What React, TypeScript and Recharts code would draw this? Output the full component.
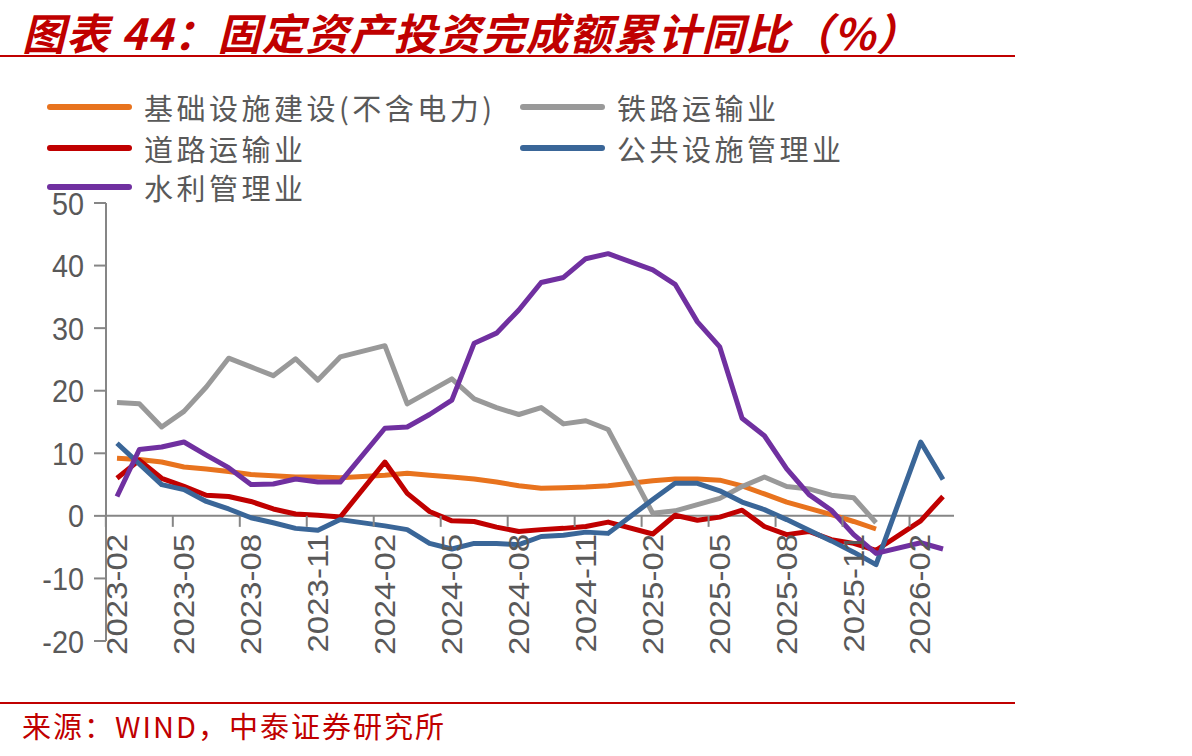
import { Line, LineChart, ReferenceLine, XAxis, YAxis } from "recharts";

// monthly cumulative YoY (%), January has no release so it stays null
const months = [
  "2023-02", "2023-03", "2023-04", "2023-05", "2023-06", "2023-07", "2023-08", "2023-09", "2023-10", "2023-11", "2023-12",
  "2024-01", "2024-02", "2024-03", "2024-04", "2024-05", "2024-06", "2024-07", "2024-08", "2024-09", "2024-10", "2024-11", "2024-12",
  "2025-01", "2025-02", "2025-03", "2025-04", "2025-05", "2025-06", "2025-07", "2025-08", "2025-09", "2025-10", "2025-11", "2025-12",
  "2026-01", "2026-02", "2026-03",
];

const infra = [
  9.2, 9.0, 8.6, 7.8, 7.5, 7.1, 6.6, 6.4, 6.2, 6.2, 6.1,
  null, 6.5, 6.8, 6.5, 6.2, 5.9, 5.4, 4.8, 4.4, 4.5, 4.6, 4.8,
  null, 5.6, 5.9, 5.9, 5.7, 4.8, 3.5, 2.2, 1.2, 0.2, -0.9, -2.1,
  null, null, null,
];

const railway = [
  18.1, 17.9, 14.2, 16.7, 20.6, 25.2, 23.8, 22.4, 25.1, 21.7, 25.4,
  null, 27.2, 17.9, 19.9, 21.9, 18.7, 17.3, 16.2, 17.3, 14.7, 15.2, 13.8,
  null, 0.4, 0.8, 1.8, 2.8, 4.7, 6.2, 4.7, 4.3, 3.3, 2.9, -1.1,
  null, null, null,
];

const road = [
  6.0, 8.9, 6.0, 4.7, 3.3, 3.1, 2.3, 1.1, 0.3, 0.1, -0.2,
  null, 8.6, 3.6, 0.7, -0.8, -0.9, -1.8, -2.5, -2.2, -2.0, -1.7, -1.0,
  null, -2.9, 0.1, -0.7, -0.2, 0.9, -1.7, -3.0, -2.5, -3.8, -4.4, -5.5,
  null, -0.8, 3.1,
];

const publicFacilities = [
  11.6, 8.3, 5.0, 4.2, 2.3, 1.1, -0.3, -1.1, -2.0, -2.3, -0.6,
  null, -1.6, -2.2, -4.4, -5.3, -4.4, -4.4, -4.6, -3.3, -3.1, -2.6, -2.8,
  null, 2.6, 5.2, 5.2, 4.0, 2.2, 1.0, -0.6, -2.3, -4.0, -5.8, -7.8,
  null, 11.8, 5.8,
];

const waterConservancy = [
  3.1, 10.6, 11.0, 11.8, 9.7, 7.7, 5.0, 5.1, 5.9, 5.4, 5.4,
  null, 14.0, 14.2, 16.2, 18.5, 27.6, 29.2, 32.9, 37.3, 38.1, 41.1, 41.9,
  null, 39.3, 37.0, 31.0, 27.0, 15.6, 12.8, 7.5, 3.4, 0.9, -3.0, -6.0,
  null, -4.3, -5.3,
];

const yTicks = [-20, -10, 0, 10, 20, 30, 40, 50];

const series = [
  { key: "infra", name: "基础设施建设(不含电力)", color: "#E8731E" },
  { key: "railway", name: "铁路运输业", color: "#999999" },
  { key: "road", name: "道路运输业", color: "#C00000" },
  { key: "publicFacilities", name: "公共设施管理业", color: "#3A6698" },
  { key: "waterConservancy", name: "水利管理业", color: "#7030A0" },
];

const data = months.map((month, i) => ({
  month,
  infra: infra[i],
  railway: railway[i],
  road: road[i],
  publicFacilities: publicFacilities[i],
  waterConservancy: waterConservancy[i],
}));

const W = 1192;
const H = 756;
const PLOT_LEFT = 106;
const PLOT_RIGHT = 954;
const PLOT_TOP = 203;
const PLOT_BOTTOM = 641;
const PAD = 11;
const ZERO_Y = PLOT_TOP + ((PLOT_BOTTOM - PLOT_TOP) * 50) / 70;
const HALF_STEP = (PLOT_RIGHT - PLOT_LEFT - 2 * PAD) / (months.length - 1) / 2;

const AXIS = "#868686";
const LABEL = "#595959";
const RED = "#C00000";
const NUM_FONT = "'Liberation Sans', Arial, sans-serif";
const CJK_FONT = "'Noto Sans CJK SC', 'Noto Sans', sans-serif";

// rotated month labels hang under the zero line, tick marks sit between categories
function MonthTick(props: any) {
  const { x, payload } = props;
  const tx = x - HALF_STEP;
  return (
    <g>
      <line x1={tx} x2={tx} y1={ZERO_Y} y2={ZERO_Y + 11} stroke={AXIS} strokeWidth={2} />
      <text
        transform={`translate(${x},${ZERO_Y + 18}) scale(0.88,1) rotate(-90)`}
        textAnchor="end"
        dominantBaseline="central"
        fontFamily={NUM_FONT}
        fontSize={33}
        fill={LABEL}
      >
        {payload.value}
      </text>
    </g>
  );
}

function ValueTick(props: any) {
  const { x, y, payload } = props;
  return (
    <text
      transform={`translate(${x},${y}) scale(0.9,1)`}
      textAnchor="end"
      dominantBaseline="central"
      fontFamily={NUM_FONT}
      fontSize={32}
      fill={LABEL}
    >
      {payload.value}
    </text>
  );
}

const legendPos = [
  { left: 47, top: 107 },
  { left: 520, top: 107 },
  { left: 47, top: 148 },
  { left: 520, top: 148 },
  { left: 47, top: 187 },
];

export default function App() {
  return (
    <div
      style={{
        position: "absolute",
        left: 0,
        top: 0,
        width: W,
        height: H,
        background: "#fff",
        overflow: "hidden",
      }}
    >
      <div
        style={{
          position: "absolute",
          left: 22,
          top: 5,
          paddingRight: 16,
          fontFamily: CJK_FONT,
          fontSize: 43,
          lineHeight: "52px",
          letterSpacing: 1,
          fontWeight: 700,
          fontStyle: "italic",
          color: RED,
          whiteSpace: "nowrap",
        }}
      >
        图表 44：固定资产投资完成额累计同比（%）
      </div>
      <div style={{ position: "absolute", left: 0, top: 55, width: 1015, height: 2, background: RED }} />

      {series.map((s, i) => (
        <div
          key={s.key}
          style={{
            position: "absolute",
            left: legendPos[i].left,
            top: legendPos[i].top - 20,
            height: 40,
            display: "flex",
            alignItems: "center",
            whiteSpace: "nowrap",
          }}
        >
          <div style={{ width: 85, height: 6, borderRadius: 3, background: s.color }} />
          <span
            style={{
              marginLeft: 12,
              fontFamily: CJK_FONT,
              fontSize: 29,
              letterSpacing: 3.5,
              color: LABEL,
            }}
          >
            {s.name}
          </span>
        </div>
      ))}

      <div style={{ position: "absolute", left: 0, top: 0 }}>
        <LineChart
          width={W}
          height={H}
          data={data}
          margin={{ top: PLOT_TOP, right: W - PLOT_RIGHT, bottom: H - PLOT_BOTTOM - 20, left: PLOT_LEFT - 60 }}
        >
          <XAxis
            dataKey="month"
            height={20}
            interval={2}
            padding={{ left: PAD, right: PAD }}
            axisLine={false}
            tickLine={false}
            tick={<MonthTick />}
          />
          <YAxis
            width={60}
            domain={[-20, 50]}
            ticks={yTicks}
            interval={0}
            allowDataOverflow
            axisLine={{ stroke: AXIS, strokeWidth: 2 }}
            tickLine={{ stroke: AXIS, strokeWidth: 2 }}
            tickSize={12}
            tickMargin={10}
            tick={<ValueTick />}
          />
          <ReferenceLine y={0} stroke={AXIS} strokeWidth={2} />
          {series.map((s) => (
            <Line
              key={s.key}
              type="linear"
              dataKey={s.key}
              name={s.name}
              stroke={s.color}
              strokeWidth={5}
              strokeLinejoin="round"
              dot={false}
              activeDot={false}
              connectNulls
              isAnimationActive={false}
            />
          ))}
        </LineChart>
      </div>

      <div style={{ position: "absolute", left: 0, top: 702, width: 1015, height: 2, background: RED }} />
      <div
        style={{
          position: "absolute",
          left: 22,
          top: 707,
          fontFamily: CJK_FONT,
          fontSize: 29,
          lineHeight: "36px",
          letterSpacing: 2,
          color: RED,
          whiteSpace: "nowrap",
        }}
      >
        来源：WIND，中泰证券研究所
      </div>
    </div>
  );
}
